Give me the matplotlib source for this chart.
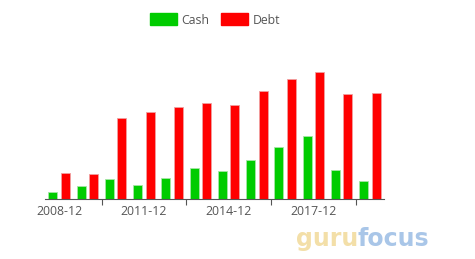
import numpy as np
import matplotlib.pyplot as plt
from matplotlib.patches import Patch

# fiscal periods (one pair of bars per year)
periods = ['2008-12', '2009-12', '2010-12', '2011-12', '2012-12', '2013-12',
           '2014-12', '2015-12', '2016-12', '2017-12', '2018-12', '2019-12']
cash = [6.7, 13, 20.3, 14, 21.3, 31.3, 28, 39, 52, 63.3, 29, 18.3]
debt = [26.3, 25, 80.7, 86.7, 91.7, 95.7, 93.7, 108, 119.7, 127.3, 105, 105.7]

plt.rcParams['font.family'] = ['Open Sans', 'DejaVu Sans']

fig = plt.figure(figsize=(4.75, 2.59), dpi=100)
ax = fig.add_axes([45 / 475, 60 / 259, 339 / 475, 139 / 259])

x = np.arange(len(periods))
w = 0.32
ax.bar(x - 0.06 - w / 2, cash, width=w, color='#00cc00', edgecolor='#a6e6a6', linewidth=0.6)
ax.bar(x + 0.06 + w / 2, debt, width=w, color='#ff0000', edgecolor='#f0a0a0', linewidth=0.6)

ax.set_xlim(-0.5, len(periods) - 0.5)
ax.set_ylim(0, 139)

for s in ['top', 'right', 'left']:
    ax.spines[s].set_visible(False)
ax.spines['bottom'].set_color('#555555')
ax.set_yticks([])

# ticks on category boundaries, labels every third category
ax.set_xticks([1.5, 4.5, 7.5, 10.5])
ax.set_xticklabels([])
ax.tick_params(axis='x', length=4, color='#555555')
for i in range(0, len(periods), 3):
    ax.text(x[i], -6, periods[i], ha='center', va='top', fontsize=8.8, color='#555555')

handles = [Patch(facecolor='#00cc00', edgecolor='#00cc00'),
           Patch(facecolor='#ff0000', edgecolor='#ff0000')]
fig.legend(handles, ['Cash', 'Debt'], loc='center', bbox_to_anchor=(215 / 475, 1 - 20 / 259),
           ncol=2, frameon=False, fontsize=8.8, handlelength=2.2, handleheight=1.1,
           columnspacing=0.9, handletextpad=0.4, labelcolor='#555555')

# watermark
fig.text(358 / 475, 1 - 239 / 259, 'guru', fontsize=17, fontweight='bold', color='#f3dfa8',
         va='center', ha='right', family='DejaVu Sans')
fig.text(358 / 475, 1 - 239 / 259, 'focus', fontsize=17, fontweight='bold', color='#a9c6e8',
         va='center', ha='left', family='DejaVu Sans')

plt.savefig('out.png', dpi=100)
